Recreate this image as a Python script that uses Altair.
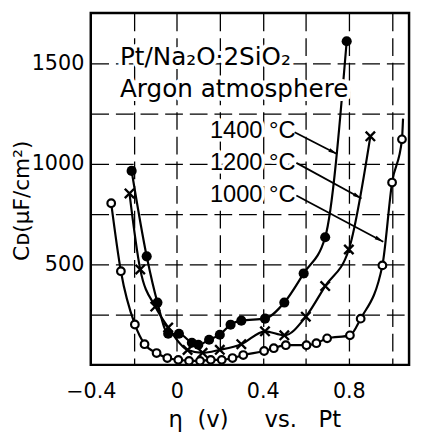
import math
import altair as alt
import pandas as pd

# ---------------- data ----------------
x1400 = [-0.21, -0.14, -0.09, -0.04, 0.01, 0.07, 0.10, 0.15, 0.20, 0.25, 0.30, 0.41, 0.50, 0.59, 0.69, 0.79]
y1400 = [965, 540, 310, 155, 155, 110, 100, 125, 150, 200, 220, 230, 310, 455, 635, 1610]

x1200 = [-0.22, -0.17, -0.10, -0.04, 0.05, 0.12, 0.20, 0.30, 0.41, 0.50, 0.60, 0.69, 0.80, 0.90]
y1200 = [853, 475, 290, 186, 74, 60, 75, 103, 167, 147, 240, 392, 574, 1137]

x1000 = [-0.305, -0.26, -0.195, -0.15, -0.094, -0.044, 0.007, 0.057, 0.108, 0.158, 0.209, 0.259,
         0.309, 0.406, 0.451, 0.507, 0.603, 0.649, 0.699, 0.805, 0.855, 0.956, 1.001, 1.047]
y1000 = [804, 466, 201, 103, 59, 34, 25, 20, 20, 25, 25, 34,
         49, 69, 83, 98, 98, 108, 132, 147, 230, 495, 907, 1122]
# the drawn curve for 1000 °C runs a little past its last marker
x1000_tail = [1.052]
y1000_tail = [1225]

header_text = ["Pt/Na₂O·2SiO₂", "Argon atmosphere"]
header_x = [-0.264, -0.264]
header_y = [1490, 1333]

temp_text = ["1400 °C", "1200 °C", "1000 °C"]
temp_x = [0.154, 0.154, 0.154]
temp_y = [1162, 1005, 843]

arrow_x = [0.548, 0.556, 0.556]
arrow_y = [1157, 1005, 843]
arrow_x2 = [0.745, 0.859, 0.960]
arrow_y2 = [1049, 828, 613]

x_ticks = [-0.4, -0.2, 0.0, 0.2, 0.4, 0.6, 0.8, 1.0]
y_ticks = [250, 500, 750, 1000, 1250, 1500]

X_DOM = [-0.4, 1.08]
Y_DOM = [0, 1750]
W, H = 323, 357

# ---------------- tables ----------------
line_rows = []
for name, xs_, ys_ in [("1400", x1400, y1400), ("1200", x1200, y1200),
                       ("1000", x1000 + x1000_tail, y1000 + y1000_tail)]:
    for a, b in zip(xs_, ys_):
        line_rows.append({"series": name, "x": a, "y": b})
line_df = pd.DataFrame(line_rows)

df1400 = pd.DataFrame({"x": x1400, "y": y1400})
df1200 = pd.DataFrame({"x": x1200, "y": y1200})
df1000 = pd.DataFrame({"x": x1000, "y": y1000})

head_df = pd.DataFrame({"t": header_text, "x": header_x, "y": header_y})
temp_df = pd.DataFrame({"t": temp_text, "x": temp_x, "y": temp_y})

pxu = W / (X_DOM[1] - X_DOM[0])
pyu = H / (Y_DOM[1] - Y_DOM[0])
angs = []
for a, b, c, d in zip(arrow_x, arrow_y, arrow_x2, arrow_y2):
    dx = (c - a) * pxu
    dy = -(d - b) * pyu
    angs.append(math.degrees(math.atan2(dx, -dy)) % 360)
arrow_df = pd.DataFrame({"x": arrow_x, "y": arrow_y, "x2": arrow_x2, "y2": arrow_y2, "ang": angs})
head_pts = pd.DataFrame({"x": arrow_x2, "y": arrow_y2, "ang": angs})

# ---------------- scales / axes ----------------
xs = alt.Scale(domain=X_DOM, nice=False, zero=False)
ys = alt.Scale(domain=Y_DOM, nice=False, zero=False)

x_axis = alt.Axis(
    values=x_ticks, format=".1~f", labelFlush=False,
    labelExpr="abs(round(datum.value*10)) % 4 == 0 ? datum.label : ''",
    title="η\u00a0\u00a0(v)\u00a0\u00a0\u00a0\u00a0\u00a0vs.\u00a0\u00a0\u00a0Pt",
    labelPadding=16, titleX=166, titleY=56, titleBaseline="middle", titleAlign="center",
)
y_axis = alt.Axis(
    values=y_ticks, format="d", labelFlush=False,
    labelExpr="datum.value % 500 == 0 ? datum.label : ''",
    title="Cᴅ(μF/cm²)",
    labelPadding=7, titleX=-70, titleY=190, titleAngle=270, titleFontSize=22,
    titleBaseline="middle", titleAlign="center",
)

X = alt.X("x:Q", scale=xs, axis=x_axis)
Y = alt.Y("y:Q", scale=ys, axis=y_axis)

lines = alt.Chart(line_df).mark_line(
    color="black", strokeWidth=2.2, interpolate="monotone"
).encode(x=X, y=Y, detail="series:N")

halo_head = alt.Chart(head_df).mark_text(
    align="left", baseline="alphabetic", font="DejaVu Sans", fontSize=25,
    color="white", stroke="white", strokeWidth=8, strokeJoin="round"
).encode(x=X, y=Y, text="t:N")
text_head = alt.Chart(head_df).mark_text(
    align="left", baseline="alphabetic", font="DejaVu Sans", fontSize=25, color="black"
).encode(x=X, y=Y, text="t:N")

halo_temp = alt.Chart(temp_df).mark_text(
    align="left", baseline="middle", font="Liberation Sans", fontSize=24,
    color="white", stroke="white", strokeWidth=7, strokeJoin="round"
).encode(x=X, y=Y, text="t:N")
text_temp = alt.Chart(temp_df).mark_text(
    align="left", baseline="middle", font="Liberation Sans", fontSize=24, color="black"
).encode(x=X, y=Y, text="t:N")

arrows = alt.Chart(arrow_df).mark_rule(color="black", strokeWidth=1.8).encode(
    x=X, y=Y, x2="x2:Q", y2="y2:Q"
)
heads = alt.Chart(head_pts).mark_point(
    shape="M0,0L-0.5,2.2L0.5,2.2Z", filled=True, color="black", size=64, opacity=1
).encode(x=X, y=Y, angle=alt.Angle("ang:Q", scale=None))

p1400 = alt.Chart(df1400).mark_point(
    shape="circle", filled=True, color="black", size=105, opacity=1
).encode(x=X, y=Y)
p1200 = alt.Chart(df1200).mark_point(
    shape="M-1,-1L1,1M-1,1L1,-1", filled=False, color="black", strokeWidth=2.4,
    size=90, opacity=1
).encode(x=X, y=Y)
p1000 = alt.Chart(df1000).mark_point(
    shape="circle", filled=True, fill="white", stroke="black", strokeWidth=2.2,
    size=60, opacity=1
).encode(x=X, y=Y)

chart = alt.layer(
    lines, halo_head, halo_temp, arrows, heads, text_head, text_temp, p1000, p1200, p1400
).properties(
    width=W, height=H,
    autosize=alt.AutoSizeParams(type="none"),
    padding={"left": 84, "top": 2, "right": 4, "bottom": 70},
    background="white",
).configure_view(
    stroke="black", strokeWidth=2.5
).configure_axis(
    domain=False, ticks=False, grid=True, gridColor="black", gridWidth=1.3,
    gridDash=[18, 7], gridOpacity=1,
    labelFont="DejaVu Sans", labelFontSize=21, labelColor="black",
    titleFont="DejaVu Sans", titleFontSize=23, titleFontWeight="normal", titleColor="black",
)

chart.save("out.html", embed_options={"renderer": "svg", "actions": False})
